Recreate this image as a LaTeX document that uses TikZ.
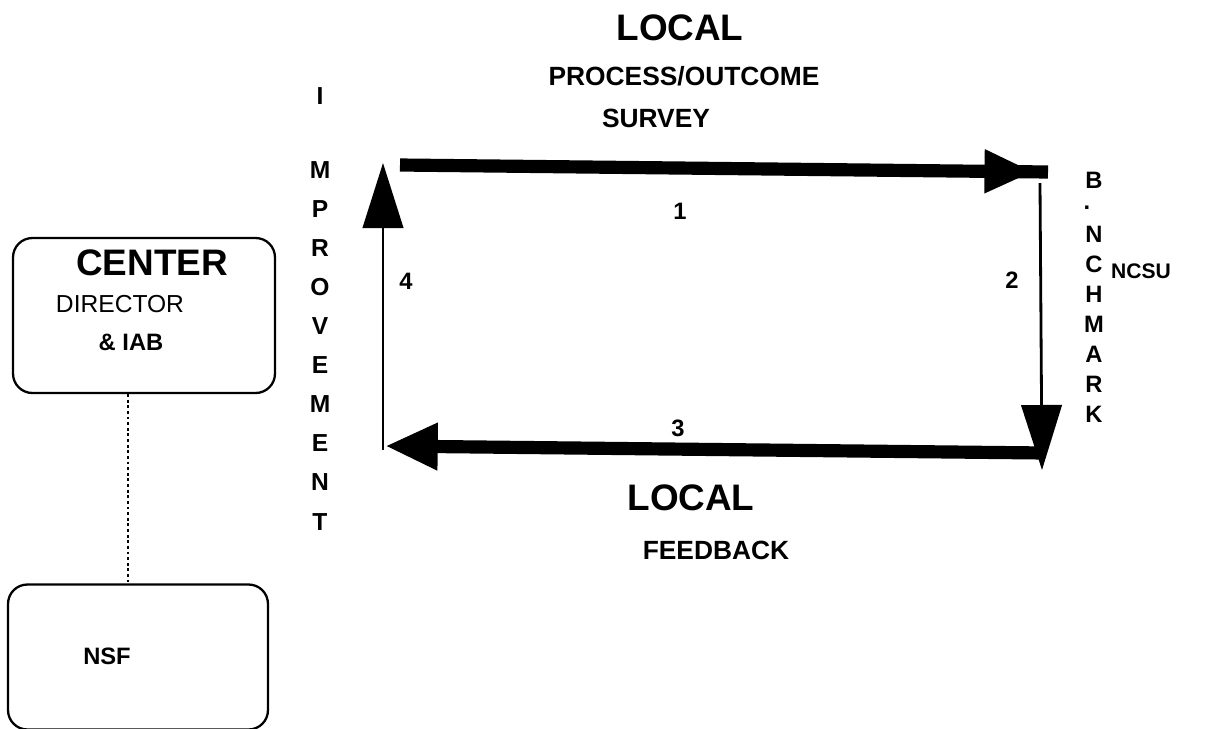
\documentclass[tikz,border=0pt]{standalone}
\usepackage{fontspec}
\setmainfont{Liberation Sans}
\usetikzlibrary{arrows.meta, positioning, calc, decorations.markings}

\begin{document}
\begin{tikzpicture}
  [
    x=0.02cm, y=-0.02cm,
    Box/.style={draw=black, line width=1.3pt, rounded corners=11pt, inner sep=0pt},
    Big/.style={font=\fontsize{21}{24}\selectfont\bfseries, inner sep=0pt},
    Mid/.style={font=\fontsize{15}{18}\selectfont\bfseries, inner sep=0pt},
    Plain/.style={font=\fontsize{14}{16}\selectfont, inner sep=0pt},
    Small/.style={font=\fontsize{13.5}{16}\selectfont\bfseries, inner sep=0pt},
    Letter/.style={font=\fontsize{14}{16}\selectfont\bfseries, inner sep=0pt},
    Thick/.style={line width=7.5pt, decoration={markings, mark=at position #1 with {\arrow{Triangle[length=28pt, width=23pt]}}}, postaction={decorate}},
    Bar/.style={line width=7.5pt, -{Triangle[length=30pt, width=25pt]}},
    Thin/.style={line width=1.6pt, -{Triangle[length=37pt, width=23pt]}}
  ]
  \useasboundingbox (0,0) rectangle (1225,728);

  % Boxes (x, y)
  \node[Box, minimum width=5.24cm, minimum height=3.1cm] (center) at (144, 315.5) {};
  \node[Box, minimum width=5.2cm, minimum height=2.9cm] (nsf) at (138, 657) {};
  \node[Big] (centerT) at (152, 263) {CENTER};
  \node[Plain] (director) at (120, 304) {DIRECTOR};
  \node[Small] (iab) at (131, 342) {\& IAB};
  \node[Small] (nsfT) at (107, 656) {NSF};

  % Titles
  \node[Big] (local1) at (680, 28) {LOCAL};
  \node[Mid] (process) at (684, 76) {PROCESS/OUTCOME};
  \node[Mid] (survey) at (656, 118) {SURVEY};
  \node[Big] (local2) at (691, 498) {LOCAL};
  \node[Mid] (feedback) at (716, 550) {FEEDBACK};
  \node[Small, font=\fontsize{12}{14}\selectfont\bfseries] (ncsu) at (1141, 271) {NCSU};

  % IMPROVEMENT
  \node[Letter] (i1) at (320, 96) {I};
  \node[Letter] (i2) at (320, 170) {M};
  \node[Letter] (i3) at (320, 209) {P};
  \node[Letter] (i4) at (320, 248) {R};
  \node[Letter] (i5) at (320, 287) {O};
  \node[Letter] (i6) at (320, 326) {V};
  \node[Letter] (i7) at (320, 365) {E};
  \node[Letter] (i8) at (320, 404) {M};
  \node[Letter] (i9) at (320, 443) {E};
  \node[Letter] (i10) at (320, 482.5) {N};
  \node[Letter] (i11) at (320, 522) {T};

  % B.NCHMARK
  \node[Small] (b1) at (1094, 180) {B};
  \node[Small] (b2) at (1087, 208) {.};
  \node[Small] (b3) at (1094, 234) {N};
  \node[Small] (b4) at (1094, 264) {C};
  \node[Small] (b5) at (1094, 294) {H};
  \node[Small] (b6) at (1094, 324) {M};
  \node[Small] (b7) at (1094, 354) {A};
  \node[Small] (b8) at (1094, 384) {R};
  \node[Small] (b9) at (1094, 414) {K};

  % Numbers
  \node[Small] (n1) at (680, 211) {1};
  \node[Small] (n2) at (1012, 280) {2};
  \node[Small] (n3) at (678, 428) {3};
  \node[Small] (n4) at (406, 281) {4};

  % Corners
  \coordinate (ulS) at (400, 165);
  \coordinate (urE) at (1048, 172);
  \coordinate (urS) at (1040, 183);
  \coordinate (lrE) at (1042, 470);
  \coordinate (lrS) at (1045, 453);
  \coordinate (llE) at (385, 446);
  \coordinate (llS) at (383, 450);
  \coordinate (ulE) at (383, 163);

  % Lines
  % 1: survey
  \path [draw, Thick=0.978] (ulS) -- (urE);
  % 2: benchmark
  \path [draw, Thin] (urS) -- (lrE);
  % 3: feedback
  \path [draw, Bar] (lrS) -- (llE);
  % 4: improvement
  \path [draw, Thin] (llS) -- (ulE);
  % center - nsf
  \path [draw, line width=0.8pt, dash pattern=on 1.6pt off 1.6pt] ($(center.south)+(-16,0)$) -- ($(nsf.north)+(-10,0)$);

\end{tikzpicture}
\end{document}
